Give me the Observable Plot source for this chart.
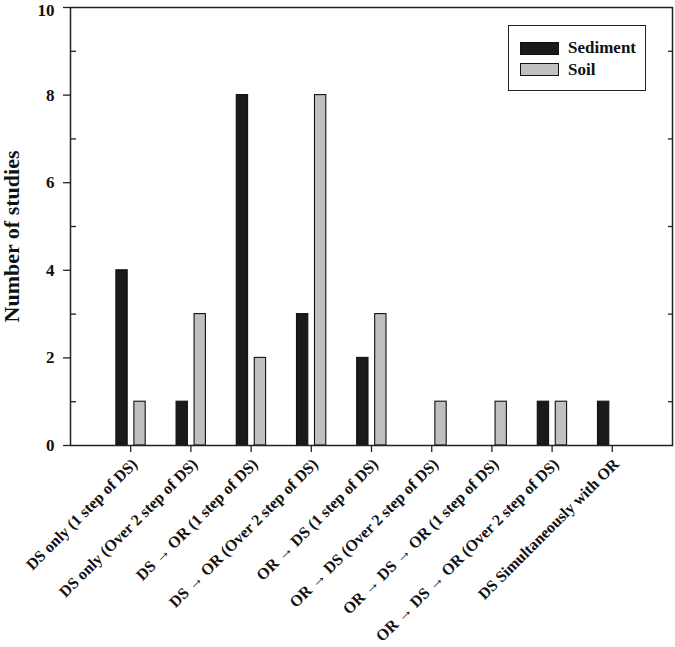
<!DOCTYPE html>
<html>
<head>
<meta charset="utf-8">
<script src="https://cdn.jsdelivr.net/npm/d3@7"></script>
<script src="https://cdn.jsdelivr.net/npm/@observablehq/plot@0.6"></script>
<style>
  html, body { margin: 0; padding: 0; background: #fff; }
  #wrap { position: relative; width: 675px; height: 647px; font-family: "Liberation Serif", "Times New Roman", serif; }
  #legend { position: absolute; left: 508px; top: 25px; width: 136px; height: 64px; border: 1.4px solid #222; background: #fff; }
  .row { position: absolute; left: 11px; height: 14px; display: flex; align-items: center; }
  .sw { width: 37px; height: 11px; border: 1.2px solid #111; margin-right: 9px; }
  .lab { font-weight: bold; font-size: 17px; color: #111; }
</style>
</head>
<body>
<div id="wrap"></div>
<script>
const categories = [
  "DS only (1 step of DS)",
  "DS only (Over 2 step of DS)",
  "DS → OR (1 step of DS)",
  "DS → OR (Over 2 step of DS)",
  "OR → DS (1 step of DS)",
  "OR → DS (Over 2 step of DS)",
  "OR → DS → OR (1 step of DS)",
  "OR → DS → OR (Over 2 step of DS)",
  "DS Simultaneously with OR"
];
const sediment = [4, 1, 8, 3, 2, 0, 0, 1, 1];
const soil = [1, 3, 2, 8, 3, 1, 1, 1, 0];
const series = ["Sediment", "Soil"];
const colors = ["#1a1a1a", "#c0c0c0"];
const majorTicks = [0, 2, 4, 6, 8, 10];
const lowerLabels = [0, 2, 4, 6, 8];
const topLabel = [10];
const minorTicks = [1, 3, 5, 7, 9];

const rows = [];
categories.forEach((c, i) => {
  rows.push({cat: c, pos: i + 1, series: "Sediment", value: sediment[i], off0: -0.238, off1: -0.05});
  rows.push({cat: c, pos: i + 1, series: "Soil", value: soil[i], off0: 0.061, off1: 0.249});
});
const bars = rows.filter(d => d.value > 0);

const font = "'Liberation Serif', 'Times New Roman', serif";

const chart = Plot.plot({
  width: 675,
  height: 647,
  marginLeft: 70,
  marginRight: 3,
  marginTop: 7,
  marginBottom: 202,
  style: {fontFamily: font, fontWeight: "bold", color: "#111", background: "#fff", overflow: "visible"},
  x: {domain: [0, 10], axis: null},
  y: {domain: [0, 10], axis: null},
  color: {domain: series, range: colors},
  marks: [
    Plot.rectY(bars, {
      x1: d => d.pos + d.off0,
      x2: d => d.pos + d.off1,
      y1: 0,
      y2: "value",
      fill: "series",
      stroke: "#111",
      strokeWidth: 1.1
    }),
    Plot.axisY({ticks: majorTicks, tickSize: 7, tickFormat: () => "", label: null, stroke: "#222", strokeWidth: 1.3}),
    Plot.axisY({ticks: lowerLabels, tickSize: 0, tickPadding: 16, fontSize: 17, fontWeight: "bold", label: null}),
    Plot.axisY({ticks: topLabel, tickSize: 0, tickPadding: 16, fontSize: 17, fontWeight: "bold", label: null, dy: 3}),
    Plot.axisY({ticks: minorTicks, tickSize: -6, tickFormat: () => "", label: null, stroke: "#222", strokeWidth: 1.3}),
    Plot.axisY({anchor: "right", ticks: minorTicks, tickSize: -5, tickFormat: () => "", label: null, stroke: "#222", strokeWidth: 1.3}),
    Plot.axisX({ticks: categories.map((d, i) => i + 1), tickSize: 7, tickFormat: () => "", label: null, stroke: "#222", strokeWidth: 1.3}),
    Plot.text(categories, {
      x: (d, i) => i + 1,
      y: 0,
      text: d => d,
      rotate: -45,
      textAnchor: "end",
      lineAnchor: "middle",
      dx: 4,
      dy: 16,
      fontSize: 16,
      fontWeight: "bold",
      fill: "#111"
    }),
    Plot.text(["Number of studies"], {
      frameAnchor: "left",
      text: d => d,
      rotate: -90,
      textAnchor: "middle",
      dx: -59,
      dy: 10,
      fontSize: 22,
      fontWeight: "bold",
      fill: "#111"
    }),
    Plot.frame({stroke: "#222", strokeWidth: 1.5})
  ]
});

const wrap = document.getElementById("wrap");
wrap.appendChild(chart);

const legend = document.createElement("div");
legend.id = "legend";
series.forEach((s, i) => {
  const row = document.createElement("div");
  row.className = "row";
  row.style.top = (15 + i * 21.5) + "px";
  const sw = document.createElement("div");
  sw.className = "sw";
  sw.style.background = colors[i];
  const lab = document.createElement("span");
  lab.className = "lab";
  lab.textContent = s;
  row.appendChild(sw);
  row.appendChild(lab);
  legend.appendChild(row);
});
wrap.appendChild(legend);
</script>
</body>
</html>
